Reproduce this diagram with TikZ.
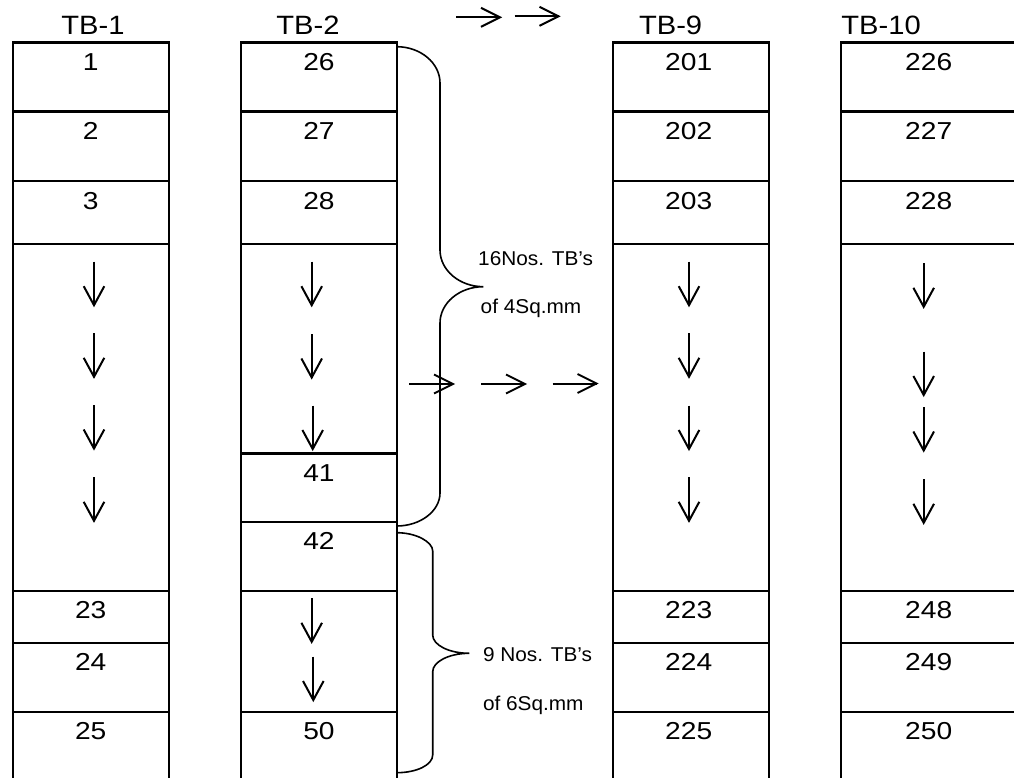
\documentclass[tikz,border=0pt]{standalone}
\usepackage{fontspec}
\setmainfont{Liberation Sans}
\newfontfamily\cellfont[FakeStretch=1.15]{Liberation Sans}
\newfontfamily\labfont[FakeStretch=1.1]{Liberation Sans}
\newfontfamily\bracefont[FakeStretch=1.04]{Liberation Sans}
\usetikzlibrary{calc}
\begin{document}
\begin{tikzpicture}[x=1pt,y=-1pt,
  cell/.style={draw, line width=2.4pt, minimum width=156pt, inner sep=0pt, outer sep=0pt, anchor=north west},
  num/.style={anchor=base, inner sep=0pt, font=\cellfont\fontsize{24.5}{26}\selectfont},
  tblab/.style={anchor=base west, inner sep=0pt, font=\labfont\fontsize{26.5}{28}\selectfont},
  btext/.style={anchor=base west, inner sep=0pt, font=\bracefont\fontsize{20}{22}\selectfont},
  arr/.style={line width=2pt, line join=miter},
  brace/.style={line width=1.6pt},
  darr/.pic={\draw[arr] (0,0) -- (0,43.5); \draw[arr] (-10.3,24.5) -- (0,43.5) -- (10.3,24.5);},
  rarr/.pic={\draw[arr] (0,0) -- (44,0); \draw[arr] (25,-9.5) -- (44,0) -- (25,9.5);}
]
\useasboundingbox (0,0) rectangle (1014,778);

% TB-1
\foreach \t/\b/\txt [count=\i] in {42.7/111.7/1, 111.7/181/2, 181/244/3, 244/590.7/{}, 590.7/642.7/23, 642.7/711.7/24, 711.7/800/25}{
  \node[cell, minimum height={\b-\t}] (a\i) at (12.7,\t) {};
  \node[num] (na\i) at ($(a\i.north)+(0,28)$) {\txt};
}
% TB-2
\foreach \t/\b/\txt [count=\i] in {42.7/111.7/26, 111.7/181/27, 181/244/28, 244/453.3/{}, 453.3/521.7/41, 521.7/590.7/42, 590.7/711.7/{}, 711.7/800/50}{
  \node[cell, minimum height={\b-\t}] (b\i) at (241,\t) {};
  \node[num] (nb\i) at ($(b\i.north)+(0,28)$) {\txt};
}
% TB-9
\foreach \t/\b/\txt [count=\i] in {42.7/111.7/201, 111.7/181/202, 181/244/203, 244/590.7/{}, 590.7/642.7/223, 642.7/711.7/224, 711.7/800/225}{
  \node[cell, minimum height={\b-\t}] (c\i) at (612.7,\t) {};
  \node[num] (nc\i) at ($(c\i.north)+(-2,28)$) {\txt};
}
% TB-10
\foreach \t/\b/\txt [count=\i] in {42.7/111.7/226, 111.7/181/227, 181/244/228, 244/590.7/{}, 590.7/642.7/248, 642.7/711.7/249, 711.7/800/250}{
  \node[cell, minimum height={\b-\t}, minimum width=180pt] (d\i) at (840.7,\t) {};
  \node[num] (nd\i) at ($(d\i.north west)+(88,28)$) {\txt};
}

% column labels
\node[tblab] (l1) at (61.2,35) {TB-1};
\node[tblab] (l2) at (276.2,35) {TB-2};
\node[tblab] (l9) at (638.8,35) {TB-9};
\node[tblab] (l10) at (841.2,35) {TB-10};

% down arrows
\foreach \y in {261.7,333.3,405,477.3} { \pic at (94,\y) {darr}; }
\pic at (311.7,261.7) {darr};
\pic at (311.7,334) {darr};
\pic at (312.7,405.5) {darr};
\pic at (311.7,598.3) {darr};
\pic at (313.3,656.5) {darr};
\foreach \y in {261.7,333.3,405.5,477.3} { \pic at (689,\y) {darr}; }
\pic at (923.7,263.3) {darr};
\pic at (923.7,351.5) {darr};
\pic at (923.7,407) {darr};
\pic at (923.7,479.3) {darr};

% right arrows
\pic at (456,17.3) {rarr};
\pic at (514.5,16.3) {rarr};
\pic at (409,384) {rarr};
\pic at (481,384) {rarr};
\pic at (552.5,383.5) {rarr};

% upper brace
\draw[brace] (396.7,46.7) .. controls (420.5,46.7) and (440,63) .. (440,83)
  -- (440,250) .. controls (440,270.2) and (459.5,286.7) .. (483.3,286.7)
  .. controls (459.5,286.7) and (440,303) .. (440,323)
  -- (440,493) .. controls (440,511) and (420.5,526) .. (396.7,526);
% lower brace
\draw[brace] (396.7,532.7) .. controls (416.5,532.7) and (432.7,542) .. (432.7,551)
  -- (432.7,635) .. controls (432.7,645) and (449,653.3) .. (469.3,653.3)
  .. controls (449,653.3) and (432.7,661.7) .. (432.7,671.7)
  -- (432.7,755) .. controls (432.7,765) and (416.5,772.7) .. (396.7,772.7);

% brace texts
\node[btext] (t1) at (478,265) {16Nos. TB’s};
\node[btext] (t2) at (480.5,313) {of 4Sq.mm};
\node[btext] (t3) at (482.8,661) {9 Nos. TB’s};
\node[btext] (t4) at (482.8,710) {of 6Sq.mm};
\end{tikzpicture}
\end{document}
